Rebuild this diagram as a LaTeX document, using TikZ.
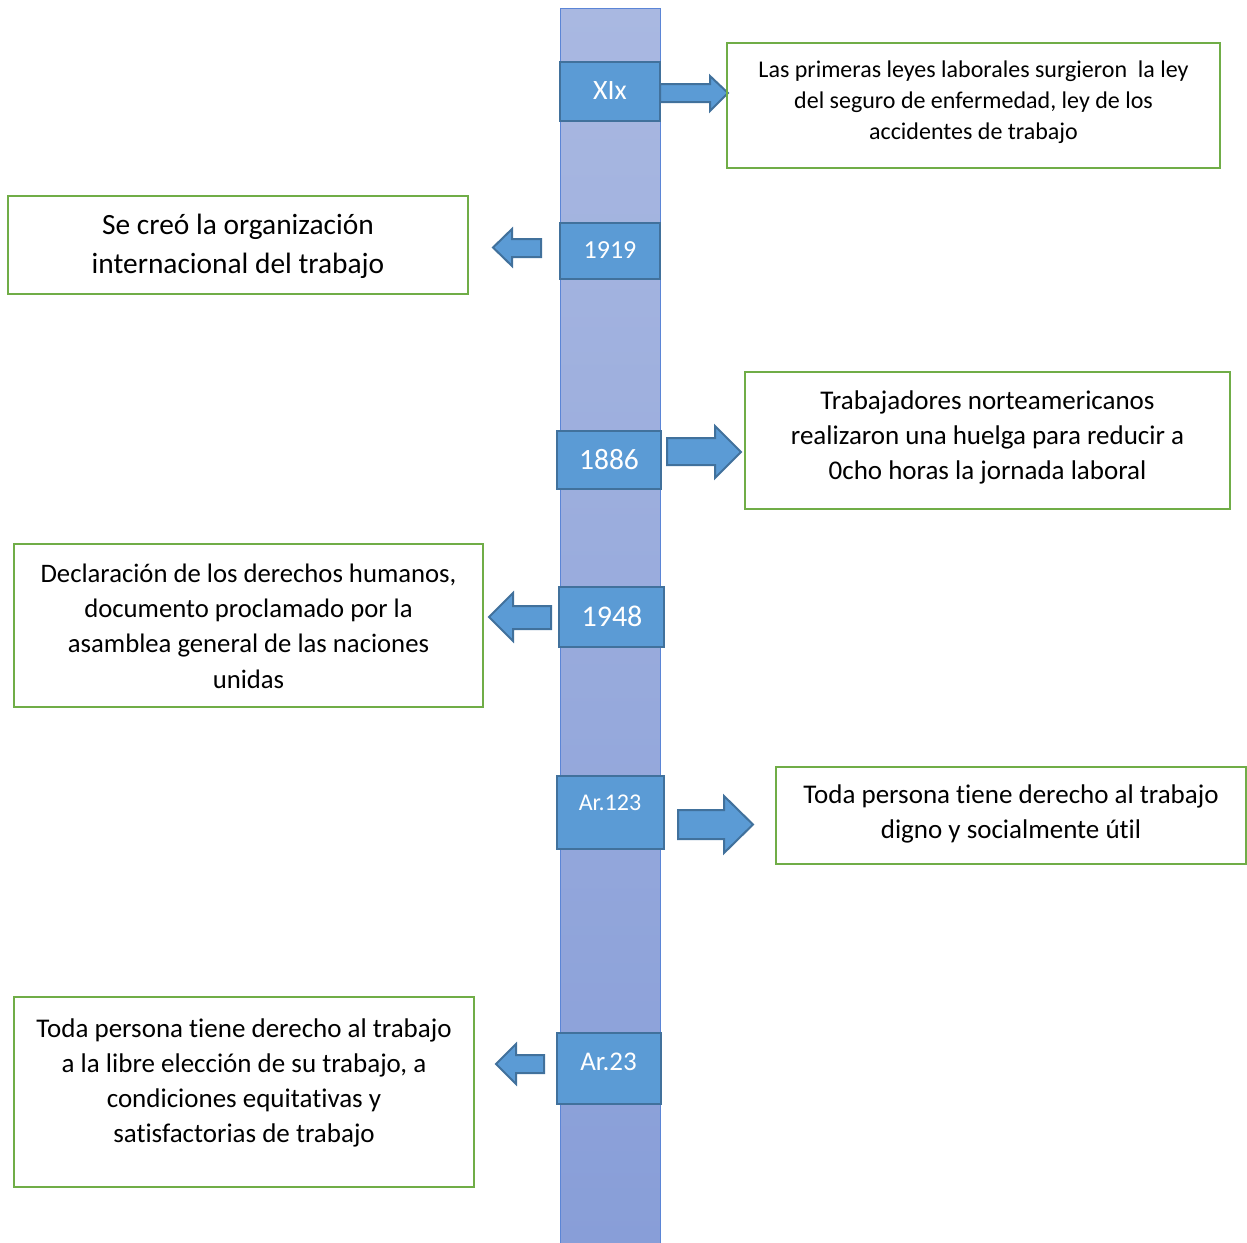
\documentclass[tikz,border=0pt]{standalone}
\usepackage{fontspec}
\setmainfont[RawFeature=-liga]{Carlito}
\definecolor{gborder}{HTML}{70AD47}
\definecolor{bfill}{HTML}{5B9BD5}
\definecolor{bborder}{HTML}{41719C}
\definecolor{bartop}{HTML}{A9B8E1}
\definecolor{barbot}{HTML}{889ED8}
\definecolor{baredge}{HTML}{5B85D6}
\begin{document}
\begin{tikzpicture}[x=1pt,y=-1pt,
  yearbox/.style={draw=bborder,fill=bfill,line width=2pt,text=white,inner sep=0pt},
  gbox/.style={draw=gborder,line width=2.2pt,inner sep=0pt},
  txt/.style={align=center,inner sep=0pt},
  barrow/.style={draw=bborder,fill=bfill,line width=2pt,line join=miter}]
\useasboundingbox (0,0) rectangle (1247,1242);
% vertical bar
\node[draw=baredge,line width=1pt,top color=bartop,bottom color=barbot,minimum width=100,minimum height=1236,inner sep=0pt] (bar) at (610,626) {};
% year boxes
\node[yearbox,minimum width=100,minimum height=59] (y1) at (610,91.5) {};
\node[font=\fontsize{28}{30}\selectfont,text=white] (y1t) at (610,91) {XIx};
\node[yearbox,minimum width=100,minimum height=56] (y2) at (610,251) {};
\node[font=\fontsize{26}{30}\selectfont,text=white] (y2t) at (610,250) {1919};
\node[yearbox,minimum width=104,minimum height=58] (y3) at (609,460) {};
\node[font=\fontsize{29.5}{30}\selectfont,text=white] (y3t) at (609,460) {1886};
\node[yearbox,minimum width=105,minimum height=60] (y4) at (611.5,617) {};
\node[font=\fontsize{30}{30}\selectfont,text=white] (y4t) at (612,616) {1948};
\node[yearbox,minimum width=107,minimum height=73] (y5) at (610.5,812.5) {};
\node[font=\fontsize{24}{30}\selectfont,text=white] (y5t) at (610,803) {Ar.123};
\node[yearbox,minimum width=104,minimum height=71] (y6) at (609,1068.5) {};
\node[font=\fontsize{27}{30}\selectfont,text=white] (y6t) at (608.5,1062) {Ar.23};
% block arrows
\draw[barrow] (660,84) -- (710,84) -- (710,76) -- (728,93) -- (710,111) -- (710,102) -- (660,102) -- cycle;
\draw[barrow] (541,239) -- (512,239) -- (512,229) -- (493,247.5) -- (512,266) -- (512,257) -- (541,257) -- cycle;
\draw[barrow] (667,438) -- (715,438) -- (715,426) -- (741,452) -- (715,478) -- (715,465) -- (667,465) -- cycle;
\draw[barrow] (551,606) -- (513,606) -- (513,593) -- (489,617) -- (513,641) -- (513,629) -- (551,629) -- cycle;
\draw[barrow] (678,810) -- (724,810) -- (724,796) -- (753,824.5) -- (724,853) -- (724,839) -- (678,839) -- cycle;
\draw[barrow] (544,1055) -- (516,1055) -- (516,1044) -- (496,1064) -- (516,1084) -- (516,1073) -- (544,1073) -- cycle;
% green text boxes
\node[gbox,minimum width=493,minimum height=125] (t1) at (973.5,105.5) {};
\node[txt,font=\fontsize{24}{31}\selectfont] (t1t) at (973.5,102) {Las primeras leyes laborales surgieron\ \ la ley\\del seguro de enfermedad, ley de los\\accidentes de trabajo};
\node[gbox,minimum width=460,minimum height=98] (t2) at (238,245) {};
\node[txt,font=\fontsize{29.4}{39}\selectfont] (t2t) at (238,246.5) {Se creó la organización\\internacional del trabajo};
\node[gbox,minimum width=485,minimum height=137] (t3) at (987.5,440.5) {};
\node[txt,font=\fontsize{27}{35}\selectfont] (t3t) at (987.5,437.5) {Trabajadores norteamericanos\\realizaron una huelga para reducir a\\0cho horas la jornada laboral};
\node[gbox,minimum width=469,minimum height=163] (t4) at (248.5,625.5) {};
\node[txt,font=\fontsize{26.7}{35.3}\selectfont] (t4t) at (248.5,626) {Declaración de los derechos humanos,\\documento proclamado por la\\asamblea general de las naciones\\unidas};
\node[gbox,minimum width=470,minimum height=97] (t5) at (1011,815.5) {};
\node[txt,font=\fontsize{27}{35}\selectfont] (t5t) at (1011,814) {Toda persona tiene derecho al trabajo\\digno y socialmente útil};
\node[gbox,minimum width=460,minimum height=190] (t6) at (244,1092) {};
\node[txt,font=\fontsize{27}{35}\selectfont] (t6t) at (244,1082.5) {Toda persona tiene derecho al trabajo\\a la libre elección de su trabajo, a\\condiciones equitativas y\\satisfactorias de trabajo};
\end{tikzpicture}
\end{document}
